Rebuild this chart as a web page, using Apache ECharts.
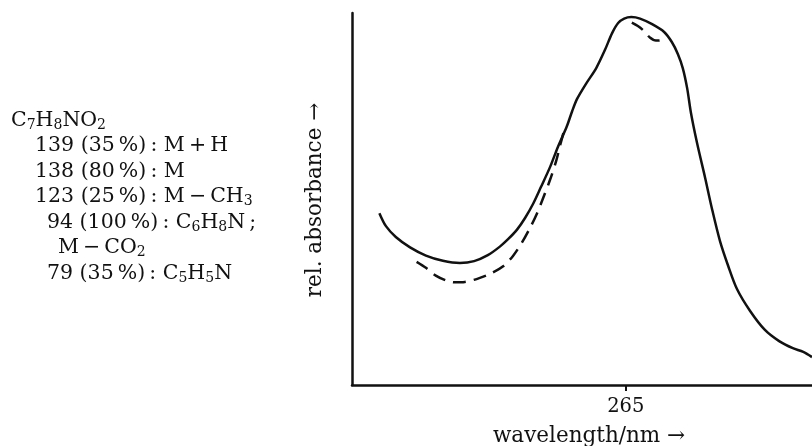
<!DOCTYPE html>
<html>
<head>
<meta charset="utf-8">
<script src="https://cdn.jsdelivr.net/npm/echarts@6/dist/echarts.min.js"></script>
<style>
html,body{margin:0;padding:0;background:#fff;}
#c{width:812px;height:446px;}
</style>
</head>
<body>
<div id="c"></div>
<script>
// Solid spectrum (wavelength nm, relative absorbance)
const solidX = [220.0,221.2,223.0,225.6,228.5,231.6,234.7,237.3,239.8,242.0,243.5,245.1,246.6,248.1,249.5,251.2,252.6,254.2,255.2,256.1,257.7,259.6,261.2,262.5,263.6,264.7,266.0,267.6,269.8,272.0,273.4,274.5,275.4,276.2,276.9,278.0,279.5,280.7,282.2,283.7,285.3,287.7,290.4,293.0,295.5,297.4,299.0];
const solidY = [46.2,42.7,39.8,37.0,34.8,33.4,32.8,33.3,34.9,37.2,39.2,41.7,44.9,48.8,53.2,58.7,64.0,69.4,73.6,76.9,80.9,85.2,90.1,94.6,97.3,98.5,98.9,98.5,97.0,94.9,92.2,89.0,85.2,79.8,73.1,65.1,55.6,47.6,38.7,32.0,25.8,19.9,14.8,11.8,9.9,8.9,7.5];
// Dashed spectrum (null = gap where it coincides with the solid curve)
const dashedX = [226.8,228.5,230.3,232.2,233.8,235.6,238.0,240.4,242.6,244.4,246.0,247.5,248.8,250.1,251.2,252.3,253.0,253.6,260.0,266.1,267.2,268.3,269.4,270.5,271.4,272.3];
const dashedY = [33.1,31.5,29.4,28.1,27.6,27.7,28.6,30.0,31.9,34.7,38.2,42.2,46.2,51.0,55.3,60.3,64.4,67.7,null,97.4,96.5,95.2,93.4,92.6,92.7,93.5];
// Axis
const xTicks = [265];
const xRange = [215, 299];
const yRange = [0, 100];
const xTitle = 'wavelength/nm →';
const yTitle = 'rel. absorbance →';
// Mass-spec annotation lines (rich text; {s|..} = subscript)
const noteLines = [
  'C{s|7}H{s|8}NO{s|2}',
  '139 (35\u2009%)\u2009: M\u2009+\u2009H',
  '138 (80\u2009%)\u2009: M',
  '123 (25\u2009%)\u2009: M\u2009−\u2009CH{s|3}',
  '94 (100\u2009%)\u2009: C{s|6}H{s|8}N\u2009;',
  'M\u2009−\u2009CO{s|2}',
  '79 (35\u2009%)\u2009: C{s|5}H{s|5}N'
];
const noteX = [11, 35, 35, 35, 47, 58, 47];
const noteY = [121, 146, 172, 197, 223, 248, 274];

const FONT = 'DejaVu Serif';
const INK = '#111';

const pair = (xs, ys) => xs.map((x, i) => [x, ys[i]]);

const chart = echarts.init(document.getElementById('c'));
const graphics = noteLines.map((t, i) => ({
  type: 'text', x: noteX[i], y: noteY[i],
  style: {
    text: t, fill: INK, fontFamily: FONT, fontSize: 20.5, lineHeight: 27,
    verticalAlign: 'middle', align: 'left',
    rich: { s: { fontFamily: FONT, fontSize: 14, lineHeight: 14, padding: [9, 0, 0, 0], fill: INK } }
  }
}));
graphics.push({
  type: 'text', x: 315, y: 200, rotation: Math.PI / 2,
  style: { text: yTitle, fill: INK, fontFamily: FONT, fontSize: 21.5, align: 'center', verticalAlign: 'middle' }
});
graphics.push({
  type: 'text', x: 589, y: 436,
  style: { text: xTitle, fill: INK, fontFamily: FONT, fontSize: 21.5, align: 'center', verticalAlign: 'middle' }
});

chart.setOption({
  animation: false,
  backgroundColor: '#fff',
  grid: { left: 352, right: 0, top: 13, bottom: 61 },
  xAxis: {
    type: 'value', min: xRange[0], max: xRange[1],
    axisLine: { show: true, lineStyle: { color: INK, width: 2.5 } },
    axisTick: { show: true, customValues: xTicks, length: 6, inside: false, lineStyle: { color: INK, width: 2 } },
    axisLabel: { customValues: xTicks, margin: 12, color: INK, fontFamily: FONT, fontSize: 19.5 },
    splitLine: { show: false }
  },
  yAxis: {
    type: 'value', min: yRange[0], max: yRange[1],
    axisLine: { show: true, lineStyle: { color: INK, width: 2.5 } },
    axisTick: { show: false }, axisLabel: { show: false }, splitLine: { show: false }
  },
  series: [
    { type: 'line', data: pair(dashedX, dashedY), smooth: 0.3, symbol: 'none', connectNulls: false,
      lineStyle: { color: INK, width: 2.5, type: [13, 8] } },
    { type: 'line', data: pair(solidX, solidY), smooth: 0.3, symbol: 'none',
      lineStyle: { color: INK, width: 2.5 } }
  ],
  graphic: graphics
});
</script>
</body>
</html>
